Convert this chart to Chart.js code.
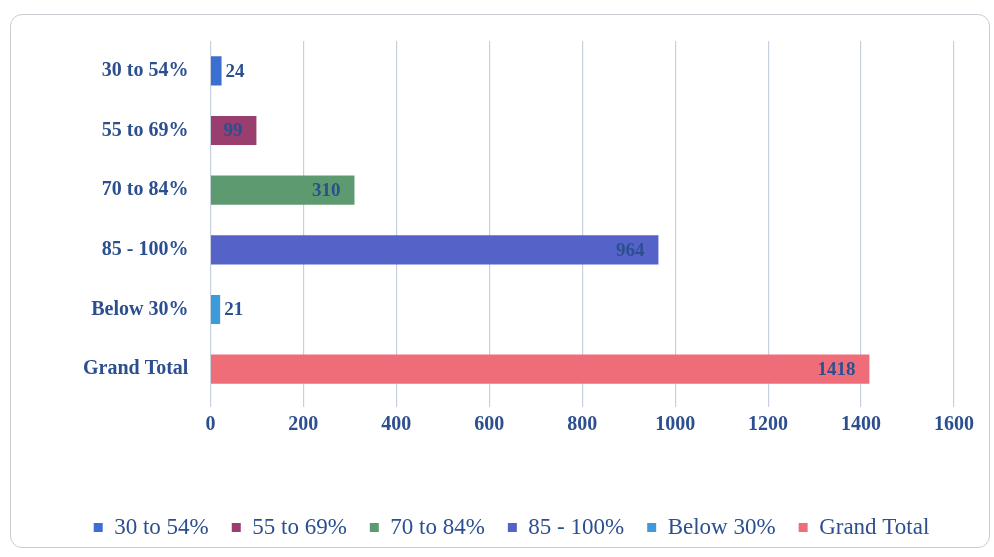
<!DOCTYPE html>
<html>
<head>
<meta charset="utf-8">
<script src="https://cdn.jsdelivr.net/npm/chart.js@4.4.1/dist/chart.umd.min.js"></script>
<style>
  html, body { margin: 0; padding: 0; background: #fff; }
  #wrap { position: absolute; left: 10px; top: 14px; width: 980px; height: 534px;
          border: 1.5px solid #c9ccd2; border-radius: 12px; box-sizing: border-box; }
  #box { position: absolute; left: 0; top: 0; width: 994px; height: 557px; }
</style>
</head>
<body>
<div id="wrap"></div>
<div id="box"><canvas id="groupChart"></canvas></div>
<script>
const categories = ['30 to 54%', '55 to 69%', '70 to 84%', '85 - 100%', 'Below 30%', 'Grand Total'];
const counts = [24, 99, 310, 964, 21, 1418];
const xTicks = [0, 200, 400, 600, 800, 1000, 1200, 1400, 1600];
const colors = ['#3b6fd1', '#9a3d6f', '#5e9a70', '#5563c9', '#3d9bd9', '#ef6d79'];

const textBlue = '#2c4f8f';

// one dataset per category so each gets its own legend entry
const datasets = categories.map((name, i) => ({
  label: name,
  data: categories.map((c, j) => (j === i ? counts[i] : null)),
  backgroundColor: colors[i],
  borderWidth: 0,
  categoryPercentage: 1,
  barPercentage: 0.49
}));

// value labels: inside end when they fit, otherwise just past the bar
const valueLabels = {
  id: 'valueLabels',
  afterDatasetsDraw(chart) {
    const ctx = chart.ctx;
    ctx.save();
    ctx.font = 'bold 19px "Liberation Serif", serif';
    ctx.fillStyle = textBlue;
    ctx.textBaseline = 'middle';
    chart.data.datasets.forEach((ds, i) => {
      const meta = chart.getDatasetMeta(i);
      meta.data.forEach((bar, j) => {
        const v = ds.data[j];
        if (v == null) return;
        const txt = String(v);
        const w = ctx.measureText(txt).width;
        const len = bar.x - bar.base;
        if (len > w + 16) {
          ctx.textAlign = 'right';
          ctx.fillText(txt, bar.x - 14, bar.y + 1);
        } else {
          ctx.textAlign = 'left';
          ctx.fillText(txt, bar.x + 4, bar.y + 1);
        }
      });
    });
    ctx.restore();
  }
};

new Chart(document.getElementById('groupChart'), {
  type: 'bar',
  data: { labels: categories, datasets: datasets },
  plugins: [valueLabels],
  options: {
    indexAxis: 'y',
    responsive: true,
    maintainAspectRatio: false,
    animation: false,
    layout: { padding: { left: 69, right: 40, top: 41, bottom: 8 } },
    plugins: {
      legend: {
        position: 'bottom',
        labels: {
          color: textBlue,
          font: { family: '"Liberation Serif", serif', size: 23 },
          boxWidth: 9,
          boxHeight: 9,
          padding: 23
        }
      },
      tooltip: { enabled: false }
    },
    scales: {
      x: {
        stacked: true,
        min: 0,
        max: 1600,
        afterBuildTicks: axis => { axis.ticks = xTicks.map(v => ({ value: v })); },
        afterFit: axis => { axis.height += 50; },
        grid: { color: '#c5cfe0', lineWidth: 1.2, tickLength: 8, drawTicks: true },
        border: { display: false },
        ticks: {
          color: textBlue,
          font: { family: '"Liberation Serif", serif', size: 20, weight: 'bold' },
          padding: 6,
          callback: v => String(v)
        }
      },
      y: {
        stacked: true,
        grid: { display: false },
        border: { display: false },
        ticks: {
          color: textBlue,
          font: { family: '"Liberation Serif", serif', size: 20, weight: 'bold' },
          padding: 14
        }
      }
    }
  }
});
</script>
</body>
</html>
